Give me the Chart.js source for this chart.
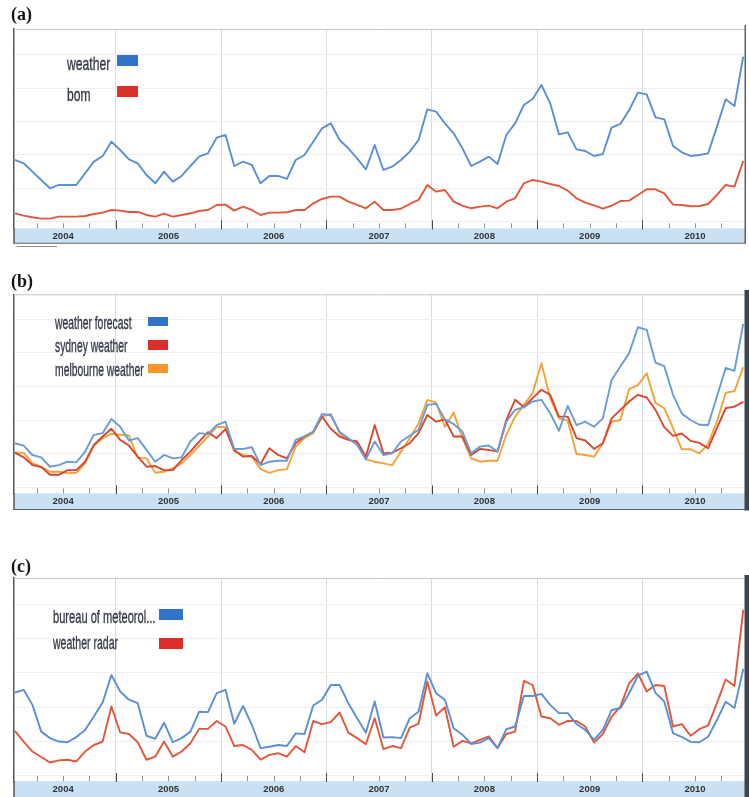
<!DOCTYPE html>
<html lang="en">
<head>
  <meta charset="UTF-8">
  <title>Weather search trends</title>
  <script src="https://cdn.jsdelivr.net/npm/chart.js"></script>
  <style>
    * {
      margin: 0;
      padding: 0;
      box-sizing: border-box;
    }

    body {
      background: #fff;
      width: 749px;
      height: 797px;
      overflow: hidden;
    }

    .page {
      position: relative;
      width: 749px;
      height: 797px;
    }

    canvas {
      position: absolute;
      left: 0;
    }

    .tag {
      position: absolute;
      font: bold 18px 'Liberation Serif', 'Times New Roman', serif;
      line-height: 18px;
      color: #151515;
    }

    .key {
      position: absolute;
      white-space: nowrap;
      font-family: 'Liberation Sans', Arial, sans-serif;
      color: #333845;
      -webkit-text-stroke: 0.35px #333845;
      transform-origin: 0 0;
    }

    .swatch {
      position: absolute;
    }

    .scroll {
      position: absolute;
      left: 17px;
      top: 246px;
      width: 40px;
      height: 1px;
      background: #8a8f94;
    }
  </style>
</head>
<body>
  <div class="page">
    <canvas id="panelA" width="749" height="250" style="top:0"></canvas>
    <canvas id="panelB" width="749" height="245" style="top:270px"></canvas>
    <canvas id="panelC" width="749" height="247" style="top:550px"></canvas>

    <div class="tag" style="left:11px;top:5px">(a)</div>
    <div class="key" style="left:67px;top:54px;font-size:19px;line-height:19px;transform:scaleX(.64)">weather</div>
    <div class="swatch" style="left:117px;top:55px;width:21px;height:11px;background:#2f74c9"></div>
    <div class="key" style="left:67px;top:85px;font-size:19px;line-height:19px;transform:scaleX(.64)">bom</div>
    <div class="swatch" style="left:117px;top:86px;width:21px;height:11px;background:#dc2e2a"></div>
    <div class="scroll"></div>

    <div class="tag" style="left:11px;top:272px">(b)</div>
    <div class="key" style="left:55px;top:314px;font-size:18.5px;line-height:18.5px;transform:scaleX(.56)">weather forecast</div>
    <div class="swatch" style="left:148px;top:317px;width:20px;height:9px;background:#2f74c9"></div>
    <div class="key" style="left:55px;top:337px;font-size:18.5px;line-height:18.5px;transform:scaleX(.56)">sydney weather</div>
    <div class="swatch" style="left:148px;top:340px;width:20px;height:10px;background:#dc2e2a"></div>
    <div class="key" style="left:55px;top:361px;font-size:18.5px;line-height:18.5px;transform:scaleX(.56)">melbourne weather</div>
    <div class="swatch" style="left:148px;top:364px;width:20px;height:9px;background:#f7962b"></div>

    <div class="tag" style="left:11px;top:557px">(c)</div>
    <div class="key" style="left:53px;top:608px;font-size:18.5px;line-height:18.5px;transform:scaleX(.6)">bureau of meteorol...</div>
    <div class="swatch" style="left:159px;top:609px;width:24px;height:11px;background:#2f74c9"></div>
    <div class="key" style="left:53px;top:634px;font-size:18.5px;line-height:18.5px;transform:scaleX(.57)">weather radar</div>
    <div class="swatch" style="left:159px;top:638px;width:24px;height:11px;background:#dc2e2a"></div>
  </div>

  <script>
    // monthly search volume, Jan 2004 .. Dec 2010
    const years = ['2004', '2005', '2006', '2007', '2008', '2009', '2010'];
    const gridSteps = [0, 10, 20, 30, 40, 50];

    const weather = [
      18.5, 17.5, 15.0, 12.5, 10.0, 11.0, 11.0, 11.0, 14.5, 18.0, 19.7, 24.0,
      21.5, 18.7, 17.5, 14.0, 11.5, 15.0, 12.0, 13.7, 16.7, 19.5, 20.5, 25.2,
      26.0, 16.7, 18.0, 17.0, 11.5, 13.7, 13.7, 12.8, 18.5, 20.0, 24.0, 28.0,
      29.5, 24.5, 22.0, 19.0, 15.7, 23.0, 15.5, 16.5, 18.5, 21.0, 24.5, 33.7,
      33.0, 29.5, 26.5, 22.0, 16.7, 18.0, 19.5, 17.3, 26.0, 29.5, 35.0, 36.8,
      41.0, 35.5, 26.2, 26.8, 21.7, 21.2, 19.7, 20.3, 28.2, 29.3, 33.5, 38.7,
      38.2, 31.3, 30.7, 22.7, 20.8, 19.7, 20.0, 20.5, 28.5, 36.7, 34.7, 49.5
    ];
    const bom = [
      2.5, 1.8, 1.3, 0.9, 0.9, 1.5, 1.5, 1.5, 1.7, 2.3, 2.7, 3.5,
      3.3, 2.9, 2.9, 2.0, 1.5, 2.4, 1.5, 2.0, 2.5, 3.2, 3.5, 5.0,
      5.1, 3.3, 4.5, 3.5, 2.0, 2.7, 2.7, 2.8, 3.5, 3.5, 5.5, 6.8,
      7.5, 7.5, 6.0, 5.0, 4.0, 6.0, 3.5, 3.5, 3.9, 5.3, 6.5, 11.0,
      9.0, 9.5, 6.0, 4.8, 4.0, 4.5, 4.8, 4.0, 6.0, 7.0, 11.5, 12.5,
      12.0, 11.3, 10.7, 9.3, 7.0, 5.7, 4.9, 3.9, 4.8, 6.2, 6.3, 8.0,
      9.7, 9.7, 8.5, 5.1, 5.0, 4.6, 4.7, 5.3, 8.0, 11.0, 10.5, 18.2
    ];

    const weatherForecast = [
      13.1, 12.4, 9.6, 8.9, 6.1, 6.6, 7.6, 7.4, 10.6, 15.6, 16.1, 20.3,
      18.0, 13.9, 14.6, 11.1, 7.6, 9.6, 8.6, 8.9, 13.6, 16.1, 15.8, 18.5,
      19.5, 11.4, 11.4, 11.9, 6.6, 7.6, 7.9, 7.9, 14.1, 15.1, 16.5, 21.8,
      21.4, 16.5, 14.6, 12.6, 8.3, 13.6, 9.6, 10.1, 13.6, 15.3, 17.1, 24.5,
      24.8, 20.2, 18.8, 16.5, 10.1, 12.1, 12.4, 10.6, 19.5, 23.0, 23.8, 25.5,
      26.0, 22.0, 16.8, 24.2, 18.5, 19.5, 18.0, 20.5, 31.9, 35.9, 39.9, 47.6,
      46.8, 37.1, 36.0, 27.5, 21.9, 20.0, 18.6, 18.5, 27.0, 35.5, 34.6, 48.6
    ];
    const sydneyWeather = [
      10.3, 8.9, 6.6, 6.0, 3.7, 3.7, 5.1, 5.1, 7.6, 12.6, 15.1, 17.4,
      14.1, 12.4, 9.1, 6.1, 6.3, 5.1, 5.1, 8.1, 10.6, 13.6, 16.4, 14.6,
      17.3, 11.1, 9.1, 9.3, 6.9, 11.6, 9.6, 8.6, 13.1, 15.1, 16.5, 21.0,
      17.4, 15.1, 14.1, 13.6, 9.1, 18.5, 10.1, 10.3, 11.6, 13.1, 16.1, 21.5,
      19.5, 20.2, 15.1, 15.1, 9.6, 11.4, 11.1, 10.6, 20.0, 26.0, 23.8, 26.5,
      29.0, 27.5, 21.0, 21.0, 14.6, 13.9, 11.4, 13.1, 20.5, 23.0, 25.5, 27.5,
      26.7, 23.0, 17.9, 15.3, 16.0, 13.8, 13.2, 11.6, 17.6, 23.5, 24.0, 25.4
    ];
    const melbourneWeather = [
      10.3, 10.3, 7.1, 6.1, 4.6, 4.6, 4.2, 4.3, 7.1, 12.3, 14.6, 15.9,
      15.6, 15.4, 8.8, 8.6, 4.3, 4.6, 5.7, 7.1, 9.6, 12.3, 15.1, 18.0,
      17.9, 10.6, 9.6, 9.1, 5.4, 4.3, 5.1, 5.4, 12.1, 14.6, 16.1, 21.0,
      21.8, 16.1, 14.1, 13.1, 8.3, 7.6, 7.1, 6.6, 10.6, 14.6, 19.0, 26.0,
      25.2, 18.0, 22.2, 14.6, 8.6, 7.6, 7.9, 7.9, 15.6, 21.0, 24.5, 28.0,
      36.9, 26.5, 20.5, 19.8, 9.9, 9.6, 9.1, 13.1, 19.5, 20.0, 29.2, 30.4,
      33.9, 25.1, 23.5, 17.6, 11.3, 11.3, 10.1, 12.9, 19.5, 28.1, 28.6, 35.7
    ];

    const bureauOfMeteorology = [
      24.3, 25.1, 20.7, 12.9, 11.0, 10.0, 9.8, 11.3, 13.4, 17.3, 21.4, 29.4,
      24.6, 22.2, 21.2, 11.7, 10.8, 15.5, 9.8, 11.0, 12.9, 18.7, 18.6, 24.1,
      25.1, 15.2, 20.4, 14.9, 8.1, 8.5, 9.0, 8.7, 12.4, 12.2, 20.5, 22.2,
      26.5, 26.5, 21.2, 16.8, 12.6, 21.7, 11.2, 11.3, 11.0, 16.8, 18.7, 29.9,
      24.1, 22.2, 13.9, 12.0, 9.3, 9.7, 11.0, 8.1, 13.6, 14.4, 23.3, 23.3,
      23.9, 20.7, 18.3, 18.3, 15.1, 13.4, 10.5, 13.4, 19.2, 19.7, 24.1, 29.2,
      30.4, 24.2, 21.7, 12.4, 11.4, 9.9, 9.8, 11.4, 16.3, 21.6, 19.8, 31.2
    ];
    const weatherRadar = [
      13.1, 10.0, 7.1, 5.5, 3.9, 4.5, 4.7, 4.2, 7.1, 9.0, 10.0, 20.2,
      12.7, 12.2, 9.8, 4.7, 5.6, 10.0, 5.6, 7.1, 9.5, 13.7, 13.7, 16.0,
      14.4, 8.7, 9.0, 7.6, 4.7, 6.1, 6.6, 5.6, 8.7, 6.9, 16.0, 15.1,
      15.7, 18.5, 12.6, 11.0, 9.2, 16.8, 7.8, 8.7, 8.1, 14.1, 15.2, 27.5,
      17.6, 20.0, 8.5, 10.2, 9.5, 10.5, 11.5, 8.1, 12.2, 12.9, 27.7, 26.5,
      17.3, 16.8, 14.9, 16.0, 16.0, 14.4, 9.7, 12.2, 17.3, 20.2, 27.0, 29.9,
      24.6, 26.5, 26.2, 14.4, 15.1, 11.7, 13.6, 14.7, 21.2, 28.1, 26.2, 48.4
    ];

    Chart.defaults.font.family = "'Liberation Sans', Arial, sans-serif";

    const xMin = 0.4, xMax = 83.7;
    // quarter marks (months since Jan 2004) that fall inside the plot
    const quarterTicks = years.flatMap((y, k) => [0, 3, 6, 9].map(m => 12 * k + m))
      .filter(v => v > xMin && v < xMax);

    // each point sits in the middle of its month
    function monthly(values) {
      return values.map((v, i) => ({ x: i + 0.5, y: v }));
    }

    function line(label, values, color) {
      return {
        label,
        data: monthly(values),
        borderColor: color,
        borderWidth: 1.9,
        pointRadius: 0,
        tension: 0,
        fill: false,
        borderJoinStyle: 'round'
      };
    }

    const trendsFrame = {
      id: 'trendsFrame',
      beforeDraw(chart, args, o) {
        const { ctx, chartArea: a } = chart;
        ctx.save();
        ctx.fillStyle = '#c9e1f3';
        ctx.fillRect(a.left, a.bottom, a.right - a.left, o.barH);
        ctx.restore();
      },
      afterDraw(chart, args, o) {
        const { ctx, chartArea: a, scales: { x } } = chart;
        const barBottom = a.bottom + o.barH;
        ctx.save();
        ctx.lineWidth = 1;

        // quarter tick marks on top of the date bar
        x.ticks.forEach(t => {
          const px = Math.round(x.getPixelForValue(t.value)) + 0.5;
          const major = t.value % 12 === 0;
          ctx.strokeStyle = major ? '#454a50' : '#8f949a';
          ctx.beginPath();
          ctx.moveTo(px, a.bottom - (major ? 8 : 5));
          ctx.lineTo(px, a.bottom + (major ? 1 : 0));
          ctx.stroke();
        });

        // top edge
        ctx.strokeStyle = '#c4c7cb';
        ctx.beginPath();
        ctx.moveTo(a.left, a.top + 0.5);
        ctx.lineTo(a.right, a.top + 0.5);
        ctx.stroke();

        // bottom of the date bar
        if (o.barLine) {
          ctx.strokeStyle = '#51575d';
          ctx.beginPath();
          ctx.moveTo(a.left, barBottom + 0.5);
          ctx.lineTo(a.right, barBottom + 0.5);
          ctx.stroke();
        }

        // left edge continues through the bar
        ctx.fillStyle = '#4f565d';
        ctx.fillRect(a.left - 0.75, a.bottom, 1.5, o.barH + 1);

        // right edge
        ctx.fillStyle = o.edgeColor;
        ctx.fillRect(a.right - 0.5, a.top - o.edgeRise, o.edgeWidth,
          barBottom - a.top + o.edgeRise + o.edgeDrop);
        ctx.restore();
      }
    };

    function makePanel(id, datasets, o) {
      return new Chart(document.getElementById(id), {
        type: 'line',
        data: { datasets },
        options: {
          responsive: false,
          animation: false,
          events: [],
          layout: { padding: { left: 14, right: 4, top: o.padTop, bottom: o.padBottom } },
          plugins: {
            legend: { display: false },
            tooltip: { enabled: false },
            trendsFrame: o
          },
          scales: {
            x: {
              type: 'linear',
              min: xMin,
              max: xMax,
              afterBuildTicks: s => { s.ticks = quarterTicks.map(v => ({ value: v })); },
              afterFit: s => { s.height = o.barH; },
              border: { display: false },
              grid: {
                drawTicks: false,
                color: c => (c.tick && c.tick.value % 12 === 0) ? '#d3dce6' : 'rgba(0,0,0,0)'
              },
              ticks: {
                autoSkip: false,
                maxRotation: 0,
                padding: 2.3,
                color: '#2f3338',
                font: { size: 9.5, weight: 'bold' },
                callback: v => v % 12 === 6 ? years[(v - 6) / 12] : ''
              }
            },
            y: {
              min: o.yMin,
              max: o.yMax,
              afterBuildTicks: s => { s.ticks = gridSteps.map(v => ({ value: v })); },
              afterFit: s => { s.width = 0; },
              ticks: { display: false },
              grid: { color: '#eceef1', drawTicks: false },
              border: { display: true, color: '#4f565d', width: 1.5 }
            }
          }
        },
        plugins: [trendsFrame]
      });
    }

    makePanel('panelA', [
      line('weather', weather, '#5b8fd3'),
      line('bom', bom, '#e0573c')
    ], {
      padTop: 29, padBottom: 7.3, barH: 14.4, yMin: -2.0, yMax: 57.8,
      barLine: true, edgeColor: '#5a6068', edgeWidth: 1.5, edgeRise: 4, edgeDrop: 1
    });

    makePanel('panelB', [
      line('weather forecast', weatherForecast, '#6a9bd7'),
      line('sydney weather', sydneyWeather, '#d9472f'),
      line('melbourne weather', melbourneWeather, '#f4a13a')
    ], {
      padTop: 24.3, padBottom: 6, barH: 15.7, yMin: -1.8, yMax: 57.4,
      barLine: true, edgeColor: '#3c454d', edgeWidth: 4.5, edgeRise: 4.3, edgeDrop: 1.5
    });

    makePanel('panelC', [
      line('bureau of meteorology', bureauOfMeteorology, '#5b8fd3'),
      line('weather radar', weatherRadar, '#e0573c')
    ], {
      padTop: 28, padBottom: 0, barH: 16, yMin: -1.5, yMax: 57.7,
      barLine: false, edgeColor: '#3c454d', edgeWidth: 4.5, edgeRise: 3, edgeDrop: 0
    });
  </script>
</body>
</html>
